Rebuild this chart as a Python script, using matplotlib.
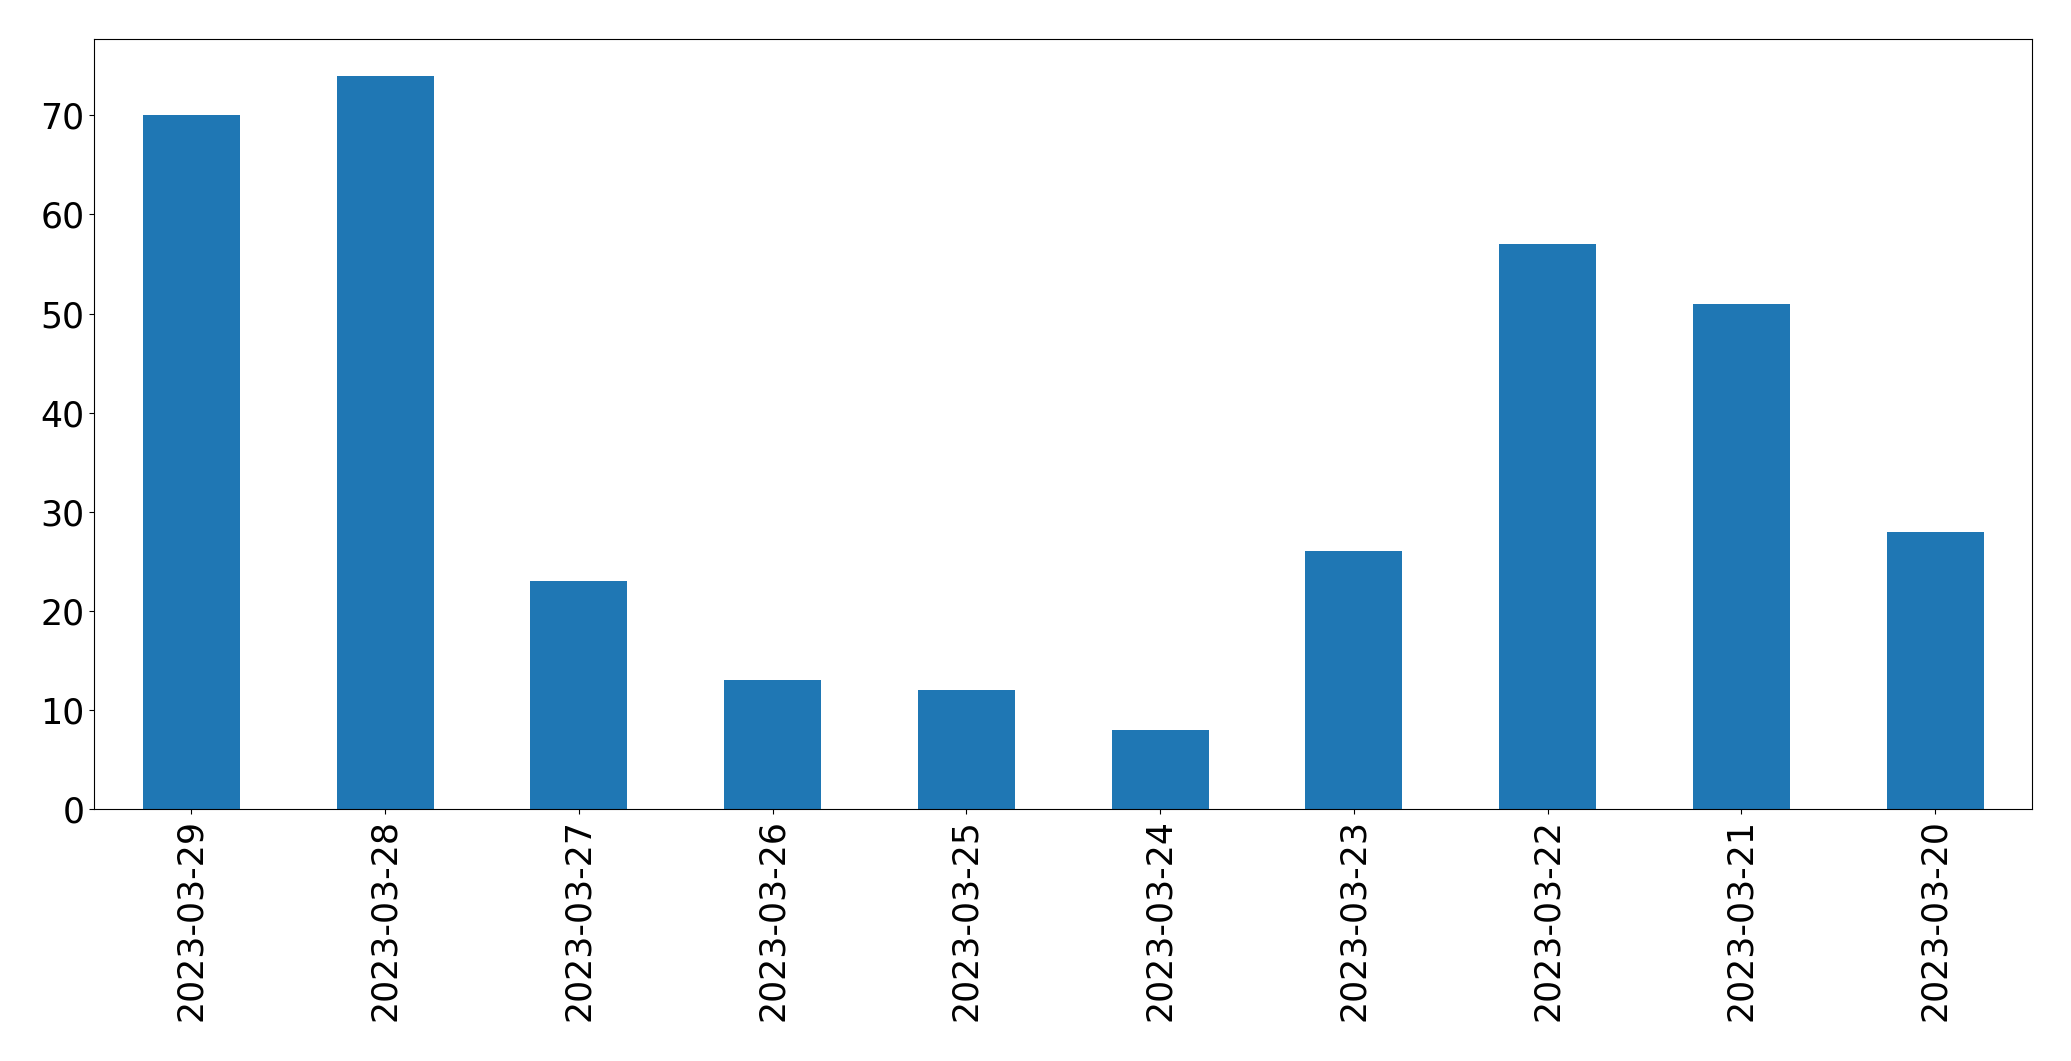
import numpy as np
import matplotlib.pyplot as plt

# Datos
dates = ['2023-03-29', '2023-03-28', '2023-03-27', '2023-03-26', '2023-03-25',
         '2023-03-24', '2023-03-23', '2023-03-22', '2023-03-21', '2023-03-20']
counts = [70, 74, 23, 13, 12, 8, 26, 57, 51, 28]

fig, ax = plt.subplots(figsize=(20.71, 10.61), dpi=100)
x = np.arange(len(dates))
ax.bar(x, counts, width=0.5, color='#1f77b4')
ax.set_xlim(-0.5, len(dates) - 0.5)
ax.set_xticks(x)
ax.set_xticklabels(dates, rotation=90)
ax.tick_params(axis='both', labelsize=25)

plt.subplots_adjust(left=0.0456, right=0.9812, top=0.9632, bottom=0.2375)
plt.savefig('out.png')
